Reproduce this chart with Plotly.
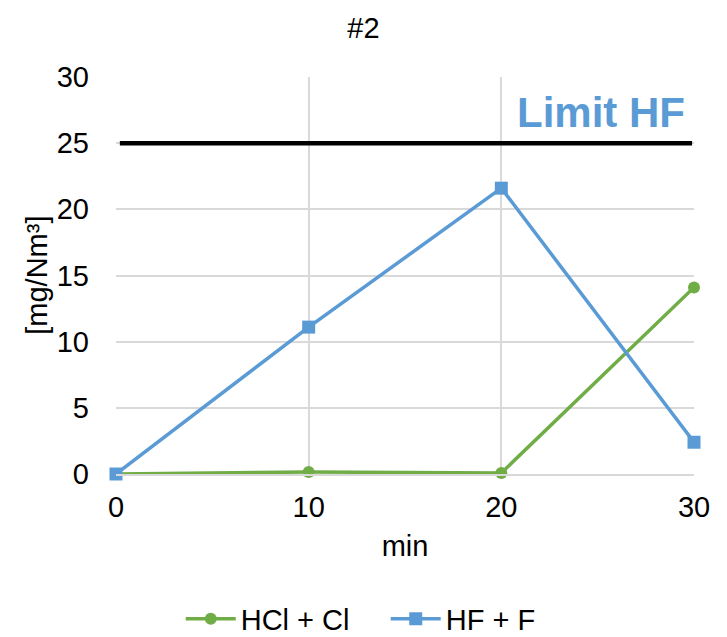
import plotly.graph_objects as go

minutes = [0, 10, 20, 30]
hcl_cl = [0.0, 0.15, 0.08, 14.1]
hf_f = [0.0, 11.1, 21.6, 2.4]
limit_hf = 25
x_ticks = [0, 10, 20, 30]
y_ticks = [0, 5, 10, 15, 20, 25, 30]

green = "#70AD47"
blue = "#5B9BD5"
grid = "#D9D9D9"
font_family = "Liberation Sans, Arial, sans-serif"
fs = 29

fig = go.Figure()
fig.add_trace(go.Scatter(
    x=minutes, y=hcl_cl, name="HCl + Cl", mode="lines+markers",
    line=dict(color=green, width=3.5),
    marker=dict(symbol="circle", size=12, color=green),
    cliponaxis=False,
))
fig.add_trace(go.Scatter(
    x=minutes, y=hf_f, name="HF + F", mode="lines+markers",
    line=dict(color=blue, width=3.5),
    marker=dict(symbol="square", size=13, color=blue),
    cliponaxis=False,
))

fig.add_shape(type="line", xref="x", yref="y", x0=0.2, x1=29.9, y0=limit_hf, y1=limit_hf,
              line=dict(color="black", width=4.5), layer="above")
fig.add_annotation(x=30, y=limit_hf, xref="x", yref="y", text="<b>Limit HF</b>",
                   showarrow=False, xanchor="right", yanchor="middle", yshift=31, xshift=-7,
                   font=dict(size=42, color=blue, family=font_family))
fig.add_annotation(x=-0.138, y=0.5, xref="paper", yref="paper", text="[mg/Nm³]",
                   textangle=-90, showarrow=False, xanchor="center", yanchor="middle",
                   font=dict(size=fs, color="black", family=font_family))

fig.update_layout(
    width=727, height=637,
    margin=dict(l=116, r=33, t=77, b=163, autoexpand=False),
    paper_bgcolor="white", plot_bgcolor="white",
    font=dict(family=font_family, size=fs, color="black"),
    title=dict(text="#2", x=0.5, xanchor="center", y=0.956, yanchor="middle",
               font=dict(size=fs, color="black")),
    showlegend=True,
    legend=dict(orientation="h", x=0.112, xanchor="left", y=-0.365, yanchor="middle",
                font=dict(size=fs), tracegroupgap=0, itemwidth=50,
                entrywidth=140, entrywidthmode="pixels"),
)
fig.update_xaxes(range=[0, 30], tickvals=x_ticks, showgrid=True, gridcolor=grid, gridwidth=1.5,
                 zeroline=False, showline=True, linecolor=grid, linewidth=1.5, mirror=False,
                 ticks="", ticklabelstandoff=6, automargin=False,
                 title=dict(text="min", font=dict(size=fs), standoff=14))
fig.update_yaxes(range=[0, 30], tickvals=y_ticks, showgrid=True, gridcolor=grid, gridwidth=1.5,
                 zeroline=False, showline=False, ticks="", ticklabelstandoff=26, automargin=False)

fig.write_html("out.html")
